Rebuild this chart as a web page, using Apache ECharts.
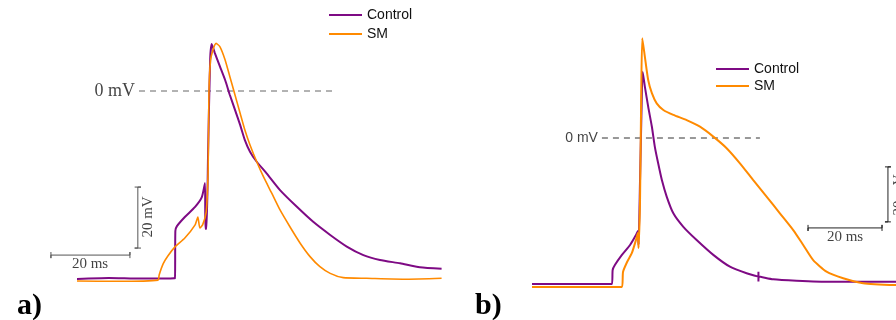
<!DOCTYPE html>
<html>
<head>
<meta charset="utf-8">
<script src="https://cdn.jsdelivr.net/npm/echarts@6/dist/echarts.min.js"></script>
<style>
  html, body { margin: 0; padding: 0; background: #fff; }
  #main { width: 896px; height: 320px; }
</style>
</head>
<body>
<div id="main"></div>
<script>
// 数据: [时间 ms, 电位 mV]
var ctrlA = [[0,-61.6],[8,-61.3],[16,-61.5],[24.8,-61.4],[24.9,-45.9],[25.3,-44.3],[27.3,-41.3],[29.9,-38],[31.6,-34.8],[32.4,-30.2],
  [32.5,-45.2],[32.8,-45.2],[33.2,-19.3],[33.7,10],[34.1,15.4],[34.9,12.4],[36.2,8],[37.5,3.6],[38.7,-1.3],[40,-6.2],
  [41.3,-11.1],[42.5,-16.1],[43.8,-19.9],[45.5,-23.2],[48,-27],[51.4,-32.5],[55.6,-37.9],[59.8,-42.9],[64.1,-47.2],
  [68.3,-51],[72.5,-53.8],[76.7,-55.4],[81.8,-56.5],[86.8,-57.8],[92.3,-58.3]];
var smA = [[0,-62.3],[10,-62.4],[20.5,-62],[20.8,-60.3],[21.8,-56.7],[23,-54.1],[24.8,-51.1],[27.3,-48.2],[29.9,-43.9],[30.6,-41.3],
  [31.1,-44.9],[31.8,-43.9],[32.7,-39.7],[33.2,-25.9],[33.4,-0.7],[33.8,10],[34.4,13.4],[35.2,15.6],[36.2,14.5],[37.5,10.2],
  [38.7,4.7],[40,-1.3],[41.3,-7.3],[42.5,-12.8],[43.8,-17.7],[45.5,-23.2],[47.2,-28.1],[49.3,-33.5],[51.4,-39],[53.9,-44.5],
  [56.5,-49.9],[59,-54.3],[61.5,-57.6],[64.1,-59.8],[67.4,-61.2],[73.3,-61.4],[83.5,-61.7],[92.3,-61.4]];
var ctrlB = [[0,-53.1],[21.6,-53.1],[21.8,-48],[22.4,-46.2],[24.3,-42.5],[26.5,-38.9],[28.1,-35.3],[28.6,-33.8],[28.8,-38.9],
  [29.2,-15.3],[29.6,10],[29.9,24.1],[30.5,18.7],[31.4,11.4],[32.4,4.1],[33.2,-3.2],[34.1,-9.2],[35.1,-15.3],[36.4,-21.3],
  [38.2,-27.4],[40.9,-32.3],[44.5,-37.1],[49,-42.5],[53.5,-46.8],[58,-49.2],[61.2,-50.4],[61.2,-48.6],[61.2,-52.2],[61.3,-50.4],
  [65.2,-51.4],[71.5,-51.9],[80.5,-52.3],[98.4,-52.3]];
var smB = [[0,-54.2],[24.3,-54.2],[24.6,-48.7],[25.7,-45.1],[27,-41.8],[28.1,-37.1],[28.6,-34.5],[28.8,-40],[29.2,-22.5],
  [29.5,13.8],[29.8,36.3],[30.5,29.6],[31.4,21.1],[32.4,16.3],[33.7,12.6],[35.5,10.2],[38.2,8.4],[41.8,6.5],[45.4,4.1],
  [49,0.5],[52.6,-3.7],[56.2,-9.2],[59.8,-15.3],[63.4,-21.3],[67,-27.4],[70.6,-33.5],[73.3,-38.9],[76,-44.4],[79.6,-48.6],
  [84.1,-51],[89.5,-52.8],[98.4,-53.5]];

// 比例尺 (20 ms / 20 mV) 和 0 mV 虚线
var zeroA = [[15.7,0],[64.8,0]];
var zeroB = [[18.9,0],[61.6,0]];
var barA = [[-6.6,-52.8],[-6.6,-54.8],[-6.6,-53.8],[13.4,-53.8],[13.4,-52.8],[13.4,-54.8]];
var vbarA = [[14.6,-31.5],[16.2,-31.5],[15.4,-31.5],[15.4,-51.5],[14.6,-51.5],[16.2,-51.5]];
var barB = [[74.6,-31.6],[74.6,-33.8],[74.6,-32.7],[94.6,-32.7],[94.6,-31.6],[94.6,-33.8]];
var vbarB = [[95.4,-10.5],[97,-10.5],[96.2,-10.5],[96.2,-30.5],[95.4,-30.5],[97,-30.5]];

var PURPLE = '#7e0a84';
var ORANGE = '#ff8a00';
var SERIF = 'Liberation Serif';
var SANS = 'Liberation Sans';

var myChart = echarts.init(document.getElementById('main'));

function axisX(i, min, max) {
  return { type: 'value', gridIndex: i, min: min, max: max, show: false };
}
function guide(name, data, x, y, color, dashed) {
  return {
    name: name, type: 'line', xAxisIndex: x, yAxisIndex: y, data: data,
    symbol: 'none', silent: true, animation: false,
    lineStyle: { color: color, width: 1, type: dashed ? [6, 5] : 'solid' }
  };
}
function text(str, pt, x, y, font, size, color, pos, rotate) {
  return {
    type: 'scatter', xAxisIndex: x, yAxisIndex: y, data: [pt], symbolSize: 0, silent: true,
    animation: false,
    label: {
      show: true, formatter: str, position: pos || 'inside', distance: 4, rotate: rotate || 0,
      fontFamily: font, fontSize: size, color: color
    }
  };
}
function trace(name, data, x, y, color, w) {
  return {
    name: name, type: 'line', xAxisIndex: x, yAxisIndex: y, data: data,
    symbol: 'none', animation: false, color: color,
    smooth: 0.2,
    lineStyle: { color: color, width: w }
  };
}

var option = {
  backgroundColor: '#fff',
  title: [
    { text: 'a)', left: 12, top: 286, textStyle: { fontFamily: SERIF, fontSize: 30, fontWeight: 'bold', color: '#000' } },
    { text: 'b)', left: 470, top: 286, textStyle: { fontFamily: SERIF, fontSize: 30, fontWeight: 'bold', color: '#000' } }
  ],
  legend: [
    { data: ['Control', 'SM'], orient: 'vertical', left: 329, top: 8, padding: 0, icon: 'rect', itemWidth: 33, itemHeight: 2,
      itemGap: 5, textStyle: { fontFamily: SANS, fontSize: 14, color: '#111' }, selectedMode: false },
    { data: ['Control', 'SM'], orient: 'vertical', left: 716, top: 62, padding: 0, icon: 'rect', itemWidth: 33, itemHeight: 2,
      itemGap: 3, textStyle: { fontFamily: SANS, fontSize: 14, color: '#111' }, selectedMode: false }
  ],
  grid: [
    { left: 37.5, top: 30, width: 402.9, height: 259.25, outerBoundsMode: 'none' },
    { left: 532, top: 28, width: 370, height: 275, outerBoundsMode: 'none' }
  ],
  xAxis: [axisX(0, -10, 92), axisX(1, 0, 100)],
  yAxis: [
    { type: 'value', gridIndex: 0, min: -65, max: 20, show: false },
    { type: 'value', gridIndex: 1, min: -60, max: 40, show: false }
  ],
  series: [
    guide('zeroA', zeroA, 0, 0, '#666', true),
    guide('barA', barA, 0, 0, '#555', false),
    guide('vbarA', vbarA, 0, 0, '#555', false),
    text('0 mV', zeroA[0], 0, 0, SERIF, 18, '#111', 'left'),
    text('20 ms', [3.3, -56.7], 0, 0, SERIF, 15, '#111'),
    text('20 mV', [18, -41.3], 0, 0, SERIF, 15, '#111', 'inside', 90),
    trace('Control', ctrlA, 0, 0, PURPLE, 2),
    trace('SM', smA, 0, 0, ORANGE, 1.6),

    guide('zeroB', zeroB, 1, 1, '#333', true),
    guide('barB', barB, 1, 1, '#222', false),
    guide('vbarB', vbarB, 1, 1, '#222', false),
    text('0 mV', zeroB[0], 1, 1, SANS, 14, '#111', 'left'),
    text('20 ms', [84.6, -36], 1, 1, SERIF, 15, '#111'),
    text('20 mV', [99.2, -20.7], 1, 1, SERIF, 15, '#111', 'inside', 90),
    trace('Control', ctrlB, 1, 1, PURPLE, 2),
    trace('SM', smB, 1, 1, ORANGE, 2)
  ]
};

myChart.setOption(option);
</script>
</body>
</html>
